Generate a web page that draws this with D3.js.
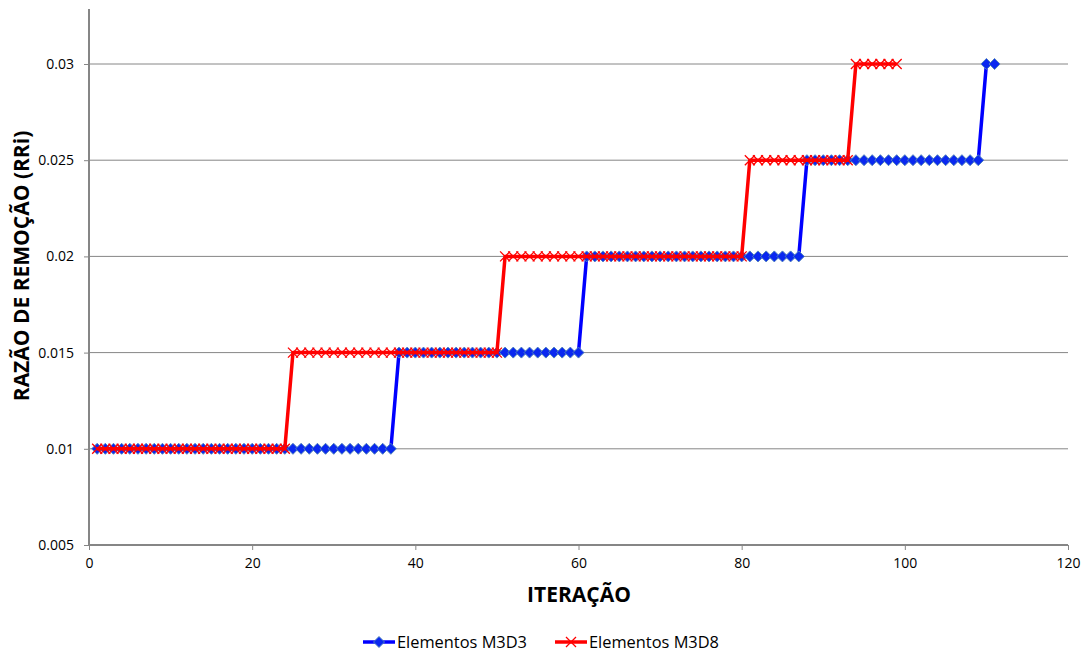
<!DOCTYPE html>
<html>
<head>
<meta charset="utf-8">
<script src="https://cdn.jsdelivr.net/npm/d3@7"></script>
<style>
  body { margin: 0; background: #fff; }
  svg { display: block; font-family: "Open Sans", "Liberation Sans", sans-serif; }
</style>
</head>
<body>
<svg id="chart" width="1088" height="657"></svg>
<script>
// Removal ratio (RRi) per iteration for each element type
const seriesNames = ["Elementos M3D3", "Elementos M3D8"];
const m3d3 = [
  0.01,0.01,0.01,0.01,0.01,0.01,0.01,0.01,0.01,0.01,
  0.01,0.01,0.01,0.01,0.01,0.01,0.01,0.01,0.01,0.01,
  0.01,0.01,0.01,0.01,0.01,0.01,0.01,0.01,0.01,0.01,
  0.01,0.01,0.01,0.01,0.01,0.01,0.01,0.015,0.015,0.015,
  0.015,0.015,0.015,0.015,0.015,0.015,0.015,0.015,0.015,0.015,
  0.015,0.015,0.015,0.015,0.015,0.015,0.015,0.015,0.015,0.015,
  0.02,0.02,0.02,0.02,0.02,0.02,0.02,0.02,0.02,0.02,
  0.02,0.02,0.02,0.02,0.02,0.02,0.02,0.02,0.02,0.02,
  0.02,0.02,0.02,0.02,0.02,0.02,0.02,0.025,0.025,0.025,
  0.025,0.025,0.025,0.025,0.025,0.025,0.025,0.025,0.025,0.025,
  0.025,0.025,0.025,0.025,0.025,0.025,0.025,0.025,0.025,0.03,
  0.03
];
const m3d8 = [
  0.01,0.01,0.01,0.01,0.01,0.01,0.01,0.01,0.01,0.01,
  0.01,0.01,0.01,0.01,0.01,0.01,0.01,0.01,0.01,0.01,
  0.01,0.01,0.01,0.01,0.015,0.015,0.015,0.015,0.015,0.015,
  0.015,0.015,0.015,0.015,0.015,0.015,0.015,0.015,0.015,0.015,
  0.015,0.015,0.015,0.015,0.015,0.015,0.015,0.015,0.015,0.015,
  0.02,0.02,0.02,0.02,0.02,0.02,0.02,0.02,0.02,0.02,
  0.02,0.02,0.02,0.02,0.02,0.02,0.02,0.02,0.02,0.02,
  0.02,0.02,0.02,0.02,0.02,0.02,0.02,0.02,0.02,0.02,
  0.025,0.025,0.025,0.025,0.025,0.025,0.025,0.025,0.025,0.025,
  0.025,0.025,0.025,0.03,0.03,0.03,0.03,0.03,0.03
];
const xTicks = [0, 20, 40, 60, 80, 100, 120];
const yTicks = [0.005, 0.01, 0.015, 0.02, 0.025, 0.03];
const yTickLabels = ["0.005", "0.01", "0.015", "0.02", "0.025", "0.03"];
const xTitle = "ITERAÇÃO";
const yTitle = "RAZÃO DE REMOÇÃO (RRi)";

const colors = ["#0000ff", "#ff0000"];
const axisGray = "#868686";

const svg = d3.select("#chart");
const plot = { left: 89, right: 1068, top: 9, bottom: 545 };

const x = d3.scaleLinear().domain([0, 120]).range([plot.left, plot.right]);
const y = d3.scaleLinear().domain([0.005, 0.03]).range([plot.bottom, 64]);

// horizontal gridlines
svg.append("g").selectAll("line")
  .data(yTicks.filter(v => v > 0.005))
  .join("line")
  .attr("x1", plot.left).attr("x2", plot.right)
  .attr("y1", d => y(d)).attr("y2", d => y(d))
  .attr("stroke", axisGray).attr("stroke-width", 1);

// y axis
const yAxis = svg.append("g")
  .attr("transform", `translate(${plot.left},0)`)
  .call(d3.axisLeft(y).tickValues(yTicks)
    .tickFormat((d, i) => yTickLabels[i]).tickSize(5).tickPadding(10));
yAxis.attr("font-size", 14).attr("font-family", null);
yAxis.select(".domain").remove();
yAxis.append("line")
  .attr("x1", 0).attr("x2", 0).attr("y1", plot.top).attr("y2", plot.bottom)
  .attr("stroke", axisGray).attr("stroke-width", 2);
yAxis.selectAll(".tick line").attr("stroke", axisGray);
yAxis.selectAll(".tick text").attr("fill", "#000");

// x axis
const xAxis = svg.append("g")
  .attr("transform", `translate(0,${plot.bottom})`)
  .call(d3.axisBottom(x).tickValues(xTicks).tickSize(5).tickPadding(8));
xAxis.attr("font-size", 14).attr("font-family", null);
xAxis.select(".domain").attr("stroke", axisGray).attr("stroke-width", 2)
  .attr("d", `M${plot.left},0H${plot.right}`);
xAxis.selectAll(".tick line").attr("stroke", axisGray);
xAxis.selectAll(".tick text").attr("fill", "#000");

// axis titles
svg.append("text")
  .attr("x", 579).attr("y", 602)
  .attr("text-anchor", "middle").attr("font-size", 21).attr("font-weight", "bold")
  .text(xTitle);
svg.append("text")
  .attr("transform", `translate(29,266) rotate(-90)`)
  .attr("text-anchor", "middle").attr("font-size", 21).attr("font-weight", "bold")
  .text(yTitle);

const line = d3.line().x(d => x(d[0])).y(d => y(d[1]));
const diamondPath = "M0,-5.5L5.5,0L0,5.5L-5.5,0Z";
const crossPath = "M-5,-5L5,5M-5,5L5,-5";

function drawMarker(sel, idx) {
  if (idx === 0) {
    sel.attr("d", diamondPath)
      .attr("fill", "#0a28f0").attr("stroke", "#4f81bd").attr("stroke-width", 1);
  } else {
    sel.attr("d", crossPath)
      .attr("fill", "none").attr("stroke", "#ff0000").attr("stroke-width", 1.3);
  }
}

function drawSeries(values, idx) {
  const pts = values.map((v, i) => [i + 1, v]);
  const g = svg.append("g");
  g.append("path").datum(pts)
    .attr("d", line).attr("fill", "none")
    .attr("stroke", colors[idx]).attr("stroke-width", 3.5)
    .attr("stroke-linejoin", "round");
  g.selectAll("path.mk").data(pts).join("path").attr("class", "mk")
    .attr("transform", d => `translate(${x(d[0])},${y(d[1])})`)
    .call(drawMarker, idx);
}
drawSeries(m3d3, 0);
drawSeries(m3d8, 1);

// legend
const legend = svg.append("g");
const legendX = [363, 555];
legendX.forEach((lx, i) => {
  const cy = 642;
  legend.append("line")
    .attr("x1", lx).attr("x2", lx + 32).attr("y1", cy).attr("y2", cy)
    .attr("stroke", colors[i]).attr("stroke-width", 3.5);
  legend.append("path").attr("transform", `translate(${lx + 16},${cy})`)
    .call(drawMarker, i);
  legend.append("text")
    .attr("x", lx + 34).attr("y", cy + 5.5)
    .attr("font-size", 16).attr("fill", "#000")
    .attr("textLength", 130).attr("lengthAdjust", "spacingAndGlyphs")
    .text(seriesNames[i]);
});
</script>
</body>
</html>
